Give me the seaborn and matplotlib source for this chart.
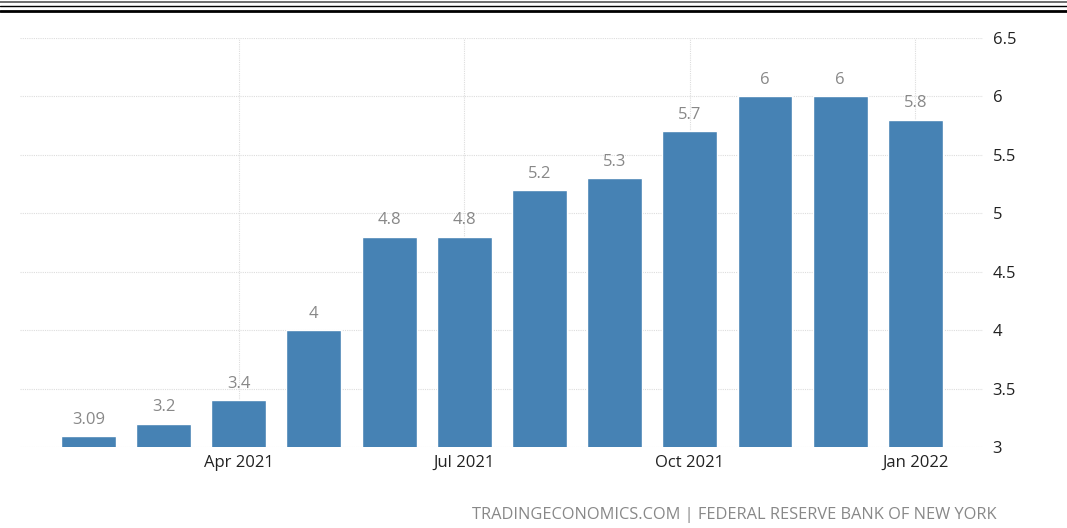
import matplotlib
matplotlib.use("Agg")
import matplotlib.pyplot as plt
from matplotlib.lines import Line2D
import seaborn as sns
import pandas as pd

months = ["Feb 2021", "Mar 2021", "Apr 2021", "May 2021", "Jun 2021", "Jul 2021",
          "Aug 2021", "Sep 2021", "Oct 2021", "Nov 2021", "Dec 2021", "Jan 2022"]
values = [3.09, 3.2, 3.4, 4.0, 4.8, 4.8, 5.2, 5.3, 5.7, 6.0, 6.0, 5.8]
tick_labels = ["Apr 2021", "Jul 2021", "Oct 2021", "Jan 2022"]
y_ticks = [3, 3.5, 4, 4.5, 5, 5.5, 6, 6.5]
source = "TRADINGECONOMICS.COM | FEDERAL RESERVE BANK OF NEW YORK"

sns.set_theme(style="white")
plt.rcParams["font.family"] = ["Open Sans", "DejaVu Sans"]

df = pd.DataFrame({"month": months, "value": values})

fig = plt.figure(figsize=(10.67, 5.28), dpi=100)
ax = fig.add_axes([20 / 1067, (528 - 447) / 528, (983 - 20) / 1067, (447 - 38) / 528])

sns.barplot(data=df, x="month", y="value", order=months, color="#4682B4",
            saturation=1, width=0.73, ax=ax, zorder=3)

ax.set_ylim(3, 6.5)
ax.set_xlim(-0.91, 11.90)
ax.set_yticks(y_ticks)
ax.set_yticklabels([f"{t:g}" for t in y_ticks])
ax.yaxis.tick_right()
ax.tick_params(axis="y", length=0, pad=7, labelsize=12, labelcolor="#222222")
ax.tick_params(axis="x", length=0, pad=6, labelsize=12, labelcolor="#222222")

pos = [months.index(m) for m in tick_labels]
ax.set_xticks(pos)
ax.set_xticklabels(tick_labels)
ax.set_xlabel("")
ax.set_ylabel("")

for s in ax.spines.values():
    s.set_visible(False)

ax.grid(True, axis="both", color="#dddddd", linestyle=(0, (1, 1)), linewidth=0.8, zorder=0)
ax.set_axisbelow(True)

for i, v in enumerate(values):
    ax.annotate(f"{v:g}", xy=(i, v), xytext=(0, 6), textcoords="offset points",
                ha="center", va="bottom", fontsize=12, color="#888888")

# top double border
fig.add_artist(Line2D([0, 1], [1 - 1.5 / 528, 1 - 1.5 / 528], color="#555555", linewidth=1.2))
fig.add_artist(Line2D([0, 1], [1 - 6 / 528, 1 - 6 / 528], color="black", linewidth=1.0))
fig.add_artist(Line2D([0, 1], [1 - 10.5 / 528, 1 - 10.5 / 528], color="black", linewidth=2.0))

fig.text(997 / 1067, 1 - 515 / 528, source, ha="right", va="center",
         fontsize=11.8, color="#888888")

fig.savefig("out.png", dpi=100)
